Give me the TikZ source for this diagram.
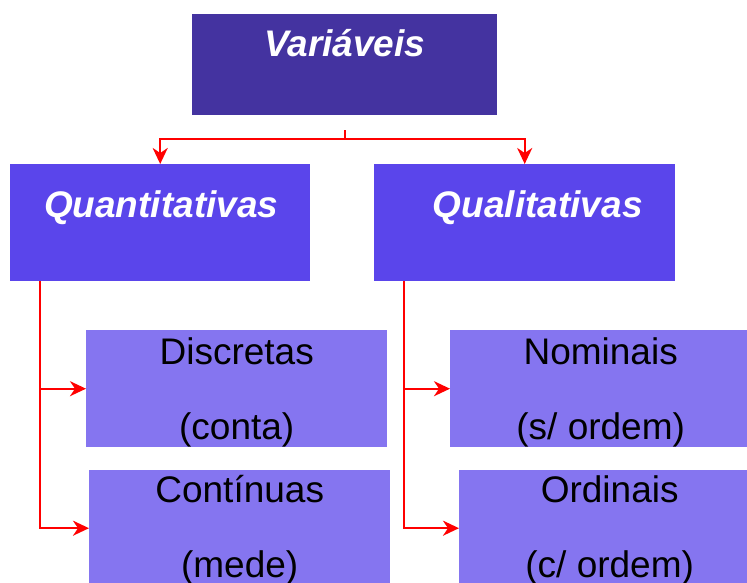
\documentclass[tikz,border=0pt]{standalone}
\usepackage{fontspec}
\setmainfont{Liberation Sans}
\usetikzlibrary{arrows.meta}

\definecolor{topblue}{RGB}{68,51,160}
\definecolor{midblue}{RGB}{90,69,235}
\definecolor{lowblue}{RGB}{133,117,240}

\begin{document}
\begin{tikzpicture}[x=1pt,y=-1pt,
    box/.style={draw=none,inner sep=0,anchor=north west,minimum width=301pt,minimum height=117pt},
    title/.style={text=white,font=\fontsize{37}{37}\selectfont\bfseries\itshape,inner sep=0,anchor=base},
    sub/.style={text=black,font=\fontsize{37}{75}\selectfont,align=center,inner sep=0,anchor=base},
    link/.style={draw=red,line width=2pt,-{Stealth[length=16pt,width=15pt,inset=5pt]}}]
    \clip (0,0) rectangle (747,583);
    % boxes
    \node[box,fill=topblue,minimum width=305pt,minimum height=101pt] (var) at (192,14) {};
    \node[box,fill=midblue,minimum width=300pt] (quant) at (10,164) {};
    \node[box,fill=midblue] (qual) at (374,164) {};
    \node[box,fill=lowblue] (disc) at (86,330) {};
    \node[box,fill=lowblue,minimum height=116pt] (cont) at (89,470) {};
    \node[box,fill=lowblue] (nom) at (450,330) {};
    \node[box,fill=lowblue,minimum height=116pt] (ord) at (459,470) {};
    % texts
    \node[title] (vartxt) at ([yshift=-43pt]var.north) {Variáveis};
    \node[title] (quanttxt) at ([xshift=1pt,yshift=-53pt]quant.north) {Quantitativas};
    \node[title] (qualtxt) at ([xshift=13pt,yshift=-53pt]qual.north) {Qualitativas};
    \node[sub] (disctxt) at ([yshift=-109pt]disc.north) {Discretas\\(conta)};
    \node[sub] (conttxt) at ([yshift=-107pt]cont.north) {Contínuas\\(mede)};
    \node[sub] (nomtxt) at ([yshift=-109pt]nom.north) {Nominais\\(s/ ordem)};
    \node[sub] (ordtxt) at ([yshift=-107pt]ord.north) {Ordinais\\(c/ ordem)};
    % connectors
    \coordinate (fork) at ([yshift=-15pt]var.south);
    \draw[link] (fork) -- ++(0,9) -| (quant.north);
    \draw[link] (fork) -- ++(0,9) -| (qual.north);
    \coordinate (qstem) at ([xshift=30pt]quant.south west);
    \draw[link] (qstem) |- (disc.west);
    \draw[link] (qstem) |- (cont.west);
    \coordinate (lstem) at ([xshift=30pt]qual.south west);
    \draw[link] (lstem) |- (nom.west);
    \draw[link] (lstem) |- (ord.west);
\end{tikzpicture}
\end{document}
